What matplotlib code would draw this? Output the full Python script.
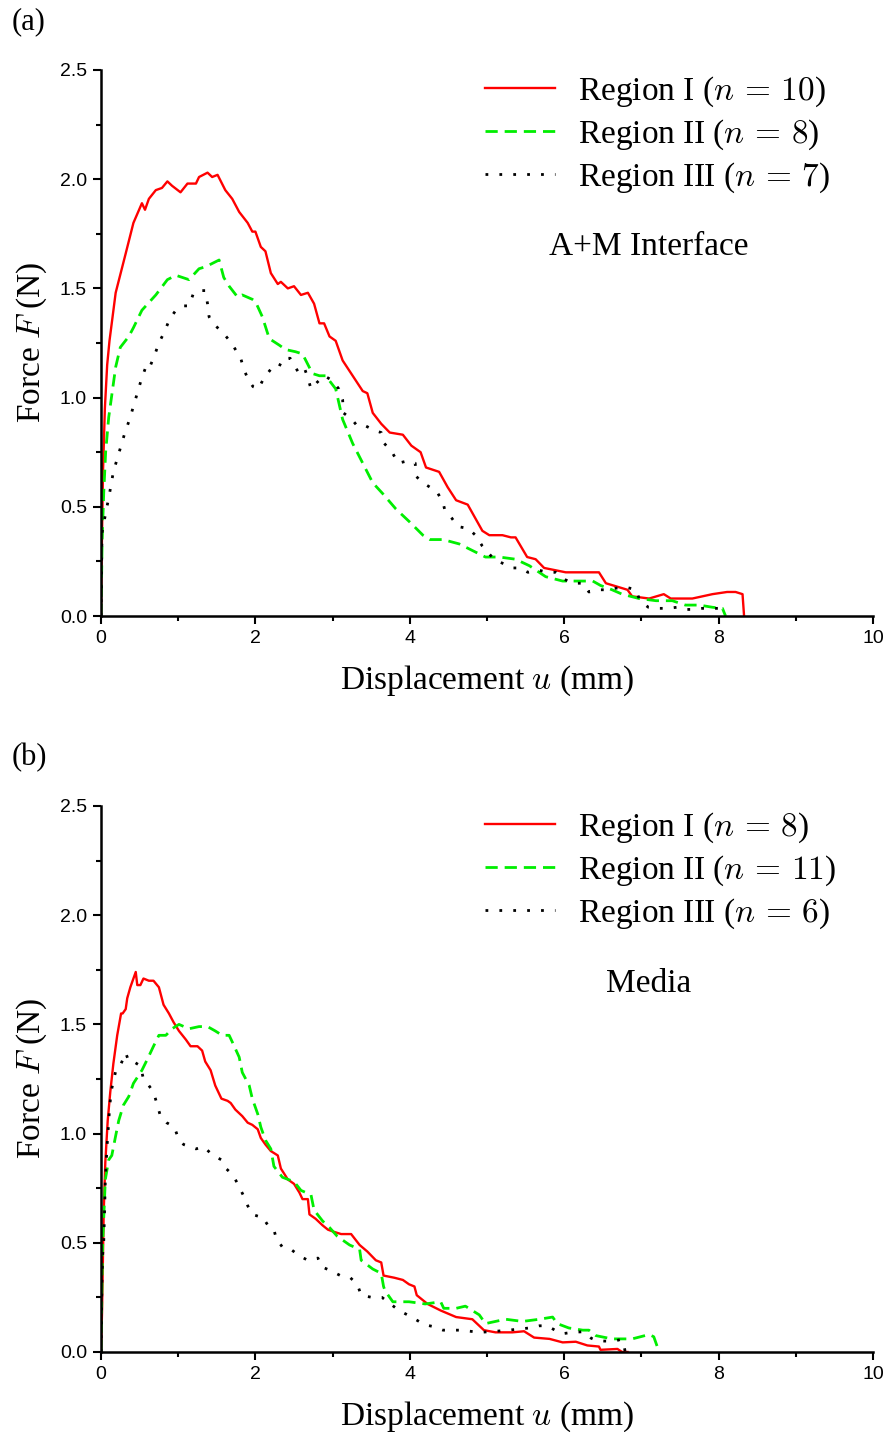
import matplotlib
matplotlib.use("Agg")
import matplotlib.pyplot as plt
from matplotlib.ticker import MultipleLocator

plt.rcParams['mathtext.fontset'] = 'cm'
plt.rcParams['font.family'] = ['Liberation Serif', 'DejaVu Serif']

# ---------------- data: panel (a) A+M Interface ----------------
a_red_x = [0, 0.01, 0.025, 0.05, 0.08, 0.11, 0.19, 0.32, 0.42, 0.53, 0.57, 0.62, 0.71, 0.79, 0.86, 0.92, 1.03,
           1.12, 1.23, 1.27, 1.38, 1.44, 1.51, 1.61, 1.70, 1.79, 1.90, 1.96, 2.00, 2.07, 2.13, 2.20, 2.29, 2.33,
           2.42, 2.50, 2.59, 2.68, 2.76, 2.83, 2.89, 2.96, 3.04, 3.13, 3.26, 3.39, 3.45, 3.52, 3.63, 3.74, 3.91,
           4.02, 4.14, 4.21, 4.38, 4.49, 4.60, 4.75, 4.94, 5.03, 5.20, 5.31, 5.37, 5.52, 5.63, 5.74, 6.02, 6.45,
           6.54, 6.82, 6.88, 7.10, 7.29, 7.38, 7.66, 7.92, 8.11, 8.22, 8.31, 8.33]
a_red_y = [0, 0.30, 0.65, 0.95, 1.15, 1.26, 1.48, 1.66, 1.80, 1.89, 1.86, 1.91, 1.95, 1.96, 1.99, 1.97, 1.94,
           1.98, 1.98, 2.01, 2.03, 2.01, 2.02, 1.95, 1.91, 1.85, 1.80, 1.76, 1.76, 1.69, 1.67, 1.57, 1.52, 1.53,
           1.50, 1.51, 1.47, 1.48, 1.43, 1.34, 1.34, 1.28, 1.26, 1.17, 1.10, 1.03, 1.02, 0.93, 0.88, 0.84, 0.83,
           0.78, 0.75, 0.68, 0.66, 0.59, 0.53, 0.51, 0.39, 0.37, 0.37, 0.36, 0.36, 0.27, 0.26, 0.22, 0.20, 0.20,
           0.15, 0.12, 0.09, 0.08, 0.10, 0.08, 0.08, 0.10, 0.11, 0.11, 0.10, 0.0]

a_green_x = [0, 0.015, 0.035, 0.06, 0.10, 0.19, 0.25, 0.36, 0.42, 0.53, 0.71, 0.86, 0.97, 1.14, 1.27, 1.36, 1.53,
             1.59, 1.66, 1.77, 1.83, 1.96, 2.00, 2.09, 2.18, 2.31, 2.39, 2.52, 2.61, 2.74, 2.83, 2.91, 3.04, 3.13,
             3.26, 3.39, 3.52, 3.65, 3.82, 4.00, 4.17, 4.26, 4.43, 4.64, 4.81, 4.98, 5.16, 5.37, 5.55, 5.76, 5.98,
             6.19, 6.37, 6.47, 6.62, 6.75, 6.97, 7.19, 7.40, 7.57, 7.75, 7.92, 8.05, 8.09]
a_green_y = [0, 0.35, 0.56, 0.75, 0.91, 1.14, 1.23, 1.28, 1.32, 1.40, 1.47, 1.54, 1.56, 1.54, 1.59, 1.60, 1.63,
             1.55, 1.51, 1.46, 1.47, 1.45, 1.44, 1.37, 1.27, 1.24, 1.22, 1.21, 1.20, 1.11, 1.10, 1.10, 1.04, 0.90,
             0.79, 0.70, 0.61, 0.56, 0.49, 0.43, 0.37, 0.35, 0.35, 0.33, 0.30, 0.27, 0.27, 0.26, 0.23, 0.18, 0.16,
             0.16, 0.16, 0.14, 0.12, 0.10, 0.08, 0.07, 0.07, 0.05, 0.05, 0.04, 0.035, 0.0]

a_black_x = [0, 0.013, 0.065, 0.10, 0.13, 0.16, 0.21, 0.26, 0.31, 0.37, 0.42, 0.47, 0.52, 0.58, 0.62, 0.69, 0.75,
             0.82, 0.89, 0.97, 1.07, 1.14, 1.20, 1.28, 1.35, 1.38, 1.40, 1.45, 1.54, 1.62, 1.69, 1.81, 1.85, 1.91,
             1.97, 2.04, 2.11, 2.20, 2.29, 2.36, 2.45, 2.50, 2.55, 2.63, 2.68, 2.72, 2.80, 2.89, 2.99, 3.08, 3.13,
             3.14, 3.25, 3.32, 3.43, 3.54, 3.63, 3.67, 3.77, 3.85, 3.97, 4.07, 4.08, 4.17, 4.26, 4.35, 4.43, 4.45,
             4.54, 4.62, 4.76, 4.85, 4.94, 5.09, 5.21, 5.33, 5.43, 5.53, 5.67, 5.78, 5.89, 5.99, 6.11, 6.24, 6.32,
             6.46, 6.56, 6.71, 6.82, 6.93, 6.98, 7.09, 7.21, 7.34, 7.46, 7.59, 7.68, 7.79, 7.90, 8.00, 8.05, 8.11]
a_black_y = [0, 0.38, 0.48, 0.54, 0.60, 0.66, 0.72, 0.78, 0.84, 0.90, 0.96, 1.02, 1.08, 1.14, 1.13, 1.19, 1.25,
             1.30, 1.36, 1.40, 1.42, 1.42, 1.48, 1.49, 1.49, 1.43, 1.37, 1.34, 1.31, 1.28, 1.25, 1.18, 1.13, 1.08,
             1.05, 1.04, 1.09, 1.13, 1.13, 1.18, 1.18, 1.15, 1.12, 1.14, 1.09, 1.04, 1.07, 1.10, 1.08, 1.04, 0.99,
             0.93, 0.90, 0.87, 0.87, 0.85, 0.84, 0.79, 0.75, 0.70, 0.71, 0.70, 0.64, 0.61, 0.59, 0.57, 0.52, 0.49,
             0.45, 0.41, 0.40, 0.37, 0.32, 0.26, 0.24, 0.22, 0.22, 0.20, 0.21, 0.20, 0.20, 0.17, 0.15, 0.15, 0.11,
             0.12, 0.12, 0.13, 0.13, 0.12, 0.07, 0.04, 0.035, 0.035, 0.04, 0.03, 0.03, 0.035, 0.035, 0.035, 0.03, 0.01]

# ---------------- data: panel (b) Media ----------------
b_red_x = [0, 0.013, 0.035, 0.056, 0.087, 0.12, 0.16, 0.21, 0.26, 0.28, 0.32, 0.34, 0.38, 0.42, 0.45, 0.47, 0.51,
           0.55, 0.62, 0.68, 0.75, 0.81, 0.88, 0.94, 1.01, 1.10, 1.16, 1.25, 1.31, 1.35, 1.42, 1.48, 1.56, 1.64,
           1.68, 1.74, 1.83, 1.90, 1.96, 2.03, 2.07, 2.13, 2.20, 2.29, 2.33, 2.42, 2.50, 2.57, 2.61, 2.68, 2.70,
           2.78, 2.87, 2.94, 3.02, 3.11, 3.24, 3.35, 3.45, 3.56, 3.63, 3.66, 3.80, 3.91, 3.99, 4.06, 4.09, 4.23,
           4.40, 4.60, 4.81, 4.90, 4.96, 5.11, 5.33, 5.48, 5.61, 5.81, 5.98, 6.15, 6.30, 6.45, 6.47, 6.69, 6.75, 6.82]
b_red_y = [0, 0.18, 0.64, 0.87, 1.06, 1.19, 1.32, 1.45, 1.55, 1.55, 1.57, 1.62, 1.67, 1.71, 1.74, 1.68, 1.68,
           1.71, 1.70, 1.70, 1.67, 1.59, 1.55, 1.51, 1.47, 1.43, 1.40, 1.40, 1.38, 1.33, 1.29, 1.22, 1.16, 1.15,
           1.14, 1.11, 1.08, 1.05, 1.04, 1.02, 0.98, 0.95, 0.92, 0.90, 0.84, 0.79, 0.77, 0.73, 0.70, 0.70, 0.63,
           0.61, 0.58, 0.56, 0.55, 0.54, 0.54, 0.49, 0.46, 0.42, 0.41, 0.35, 0.34, 0.33, 0.31, 0.30, 0.26, 0.22,
           0.19, 0.16, 0.15, 0.12, 0.10, 0.09, 0.09, 0.095, 0.066, 0.06, 0.044, 0.047, 0.03, 0.025, 0.01, 0.014, 0.0, 0.0]

b_green_x = [0, 0.02, 0.056, 0.10, 0.14, 0.19, 0.23, 0.29, 0.36, 0.42, 0.53, 0.60, 0.68, 0.75, 0.84, 0.92, 1.01,
             1.14, 1.27, 1.38, 1.48, 1.57, 1.66, 1.70, 1.79, 1.83, 1.92, 1.96, 2.03, 2.07, 2.13, 2.20, 2.24, 2.35,
             2.50, 2.59, 2.72, 2.76, 2.87, 2.96, 3.06, 3.22, 3.35, 3.37, 3.52, 3.63, 3.66, 3.68, 3.78, 3.99, 4.20,
             4.40, 4.44, 4.60, 4.72, 4.90, 4.98, 5.24, 5.46, 5.68, 5.85, 5.91, 6.06, 6.24, 6.32, 6.41, 6.62, 6.88,
             7.10, 7.16, 7.21, 7.22]
b_green_y = [0, 0.48, 0.79, 0.88, 0.90, 0.99, 1.06, 1.13, 1.17, 1.23, 1.29, 1.34, 1.40, 1.45, 1.45, 1.48, 1.50,
             1.48, 1.49, 1.49, 1.47, 1.45, 1.45, 1.42, 1.35, 1.28, 1.22, 1.16, 1.09, 1.03, 0.97, 0.93, 0.85, 0.80,
             0.78, 0.74, 0.72, 0.65, 0.60, 0.57, 0.53, 0.49, 0.47, 0.42, 0.38, 0.36, 0.30, 0.28, 0.23, 0.23, 0.22,
             0.23, 0.20, 0.20, 0.21, 0.17, 0.13, 0.15, 0.14, 0.15, 0.16, 0.13, 0.11, 0.10, 0.10, 0.075, 0.06, 0.06,
             0.08, 0.07, 0.02, 0.0]

b_black_x = [0, 0.005, 0.013, 0.02, 0.035, 0.048, 0.056, 0.078, 0.11, 0.13, 0.16, 0.20, 0.26, 0.32, 0.36, 0.42,
             0.51, 0.55, 0.62, 0.68, 0.73, 0.77, 0.85, 0.95, 1.00, 1.07, 1.23, 1.33, 1.45, 1.56, 1.62, 1.71, 1.77,
             1.84, 1.90, 1.96, 2.05, 2.09, 2.18, 2.24, 2.27, 2.35, 2.46, 2.57, 2.68, 2.81, 2.86, 2.99, 3.10, 3.23,
             3.32, 3.37, 3.51, 3.64, 3.75, 3.86, 3.97, 4.07, 4.19, 4.31, 4.43, 4.51, 4.65, 4.78, 4.91, 5.03, 5.15,
             5.28, 5.41, 5.55, 5.68, 5.78, 5.88, 5.98, 6.11, 6.25, 6.35, 6.42, 6.52, 6.65, 6.74, 6.78, 6.79]
b_black_y = [0, 0.13, 0.33, 0.44, 0.50, 0.67, 0.79, 0.94, 1.11, 1.19, 1.24, 1.30, 1.32, 1.37, 1.33, 1.33,
             1.31, 1.25, 1.22, 1.19, 1.13, 1.08, 1.05, 1.03, 0.98, 0.95, 0.93, 0.94, 0.90, 0.88, 0.84, 0.81, 0.77,
             0.72, 0.67, 0.63, 0.62, 0.62, 0.57, 0.56, 0.52, 0.48, 0.47, 0.44, 0.42, 0.43, 0.39, 0.37, 0.35, 0.34,
             0.31, 0.26, 0.25, 0.25, 0.22, 0.19, 0.17, 0.15, 0.125, 0.116, 0.10, 0.10, 0.10, 0.095, 0.09, 0.093, 0.096,
             0.10, 0.105, 0.11, 0.12, 0.12, 0.10, 0.084, 0.09, 0.093, 0.063, 0.052, 0.05, 0.05, 0.058, 0.02, 0.0]

x_ticks = [0, 2, 4, 6, 8, 10]
y_ticks = [0.0, 0.5, 1.0, 1.5, 2.0, 2.5]
a_labels = [r"Region I ($n\,=\,10$)", r"Region II ($n\,=\,8$)", r"Region III ($n\,=\,7$)"]
b_labels = [r"Region I ($n\,=\,8$)", r"Region II ($n\,=\,11$)", r"Region III ($n\,=\,6$)"]

W, H = 888, 1432
fig = plt.figure(figsize=(W / 100, H / 100), dpi=100)

def make_axes(top_px, bottom_px):
    left, right = 101, 873
    return fig.add_axes([left / W, 1 - bottom_px / H, (right - left) / W, (bottom_px - top_px) / H])

FS = 24
tick_font = dict(family='Liberation Sans', size=14)

def style(ax, labels, series, note, note_xy):
    (rx, ry), (gx, gy), (kx, ky) = series
    ax.plot(rx, ry, color='#ff0000', lw=1.7, label=labels[0])
    ax.plot(gx, gy, color='#00ee00', lw=2.0, ls=(0, (4.4, 2.5)), label=labels[1])
    ax.plot(kx, ky, color='black', lw=2.0, ls=(0, (1, 4.0)), label=labels[2])
    for s in ['top', 'right']:
        ax.spines[s].set_visible(False)
    for s in ['left', 'bottom']:
        ax.spines[s].set_linewidth(1.8)
    ax.set_xticks(x_ticks)
    ax.set_xticklabels([f"{v:g}" for v in x_ticks], **tick_font)
    ax.set_yticks(y_ticks)
    ax.set_yticklabels([f"{v:.1f}" for v in y_ticks], **tick_font)
    ax.xaxis.set_minor_locator(MultipleLocator(1))
    ax.yaxis.set_minor_locator(MultipleLocator(0.25))
    ax.tick_params(which='major', direction='out', width=1.5, length=6, pad=4)
    ax.tick_params(which='minor', direction='out', width=1.5, length=3.5)
    ax.set_xlim(0, 10)
    ax.set_ylim(0, 2.5)
    ax.set_xlabel(r"Displacement $u$ (mm)", fontsize=FS, labelpad=12)
    ax.set_ylabel(r"Force $F$ (N)", fontsize=FS, labelpad=8)
    ax.legend(loc='upper left', bbox_to_anchor=(0.497, 0.991), frameon=False, fontsize=FS,
              handlelength=2.1, handletextpad=0.7, labelspacing=0.25, borderpad=0.0, borderaxespad=0.0)
    ax.text(note_xy[0], note_xy[1], note, transform=ax.transAxes, fontsize=FS, ha='center', va='center')

ax1 = make_axes(70, 616)
style(ax1, a_labels, [(a_red_x, a_red_y), (a_green_x, a_green_y), (a_black_x, a_black_y)],
      "A+M Interface", ((649 - 101) / 772, (616 - 247) / 546))
ax2 = make_axes(806, 1352)
style(ax2, b_labels, [(b_red_x, b_red_y), (b_green_x, b_green_y), (b_black_x, b_black_y)],
      "Media", ((649 - 101) / 772, (1352 - 984) / 546))

fig.text(12 / W, 1 - 22 / H, "(a)", fontsize=22, ha='left', va='center')
fig.text(12 / W, 1 - 758 / H, "(b)", fontsize=22, ha='left', va='center')

fig.savefig("out.png", dpi=100)
